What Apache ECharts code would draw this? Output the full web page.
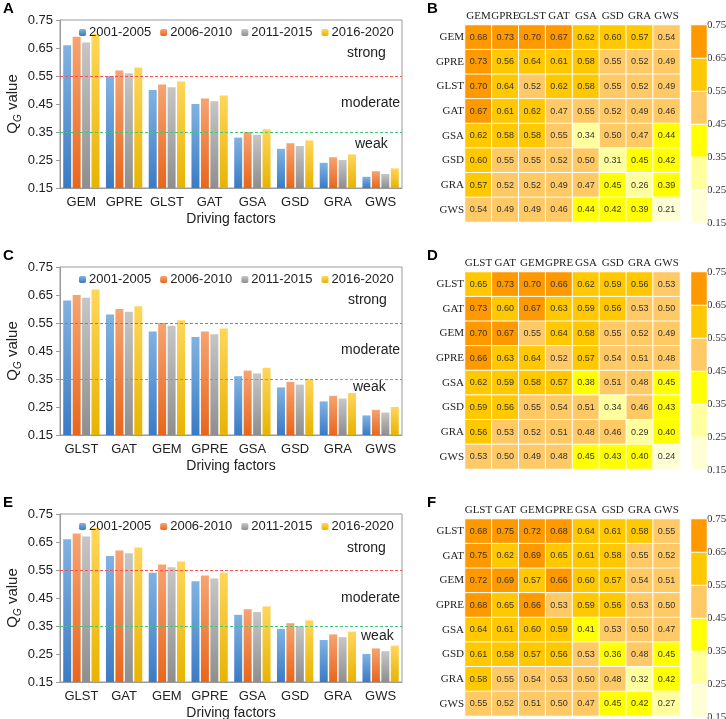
<!DOCTYPE html>
<html>
<head>
<meta charset="utf-8">
<script src="https://cdn.jsdelivr.net/npm/echarts@6/dist/echarts.min.js"></script>
<style>
  html, body { margin: 0; padding: 0; background: #fff; }
  #main { width: 726px; height: 719px; }
</style>
</head>
<body>
<div id="main"></div>
<script>
// periods shown in the bar charts
const periods = ['2001-2005', '2006-2010', '2011-2015', '2016-2020'];
const thresholds = [0.55, 0.35];

// panel A
const factorsA = ['GEM', 'GPRE', 'GLST', 'GAT', 'GSA', 'GSD', 'GRA', 'GWS'];
const qA_2001 = [0.66, 0.55, 0.50, 0.45, 0.33, 0.29, 0.24, 0.19];
const qA_2006 = [0.69, 0.57, 0.52, 0.47, 0.35, 0.31, 0.26, 0.21];
const qA_2011 = [0.67, 0.56, 0.51, 0.46, 0.34, 0.30, 0.25, 0.20];
const qA_2016 = [0.70, 0.58, 0.53, 0.48, 0.36, 0.32, 0.27, 0.22];

// panel C
const factorsC = ['GLST', 'GAT', 'GEM', 'GPRE', 'GSA', 'GSD', 'GRA', 'GWS'];
const qC_2001 = [0.63, 0.58, 0.52, 0.50, 0.36, 0.32, 0.27, 0.22];
const qC_2006 = [0.65, 0.60, 0.55, 0.52, 0.38, 0.34, 0.29, 0.24];
const qC_2011 = [0.64, 0.59, 0.54, 0.51, 0.37, 0.33, 0.28, 0.23];
const qC_2016 = [0.67, 0.61, 0.56, 0.53, 0.39, 0.35, 0.30, 0.25];

// panel E
const factorsE = ['GLST', 'GAT', 'GEM', 'GPRE', 'GSA', 'GSD', 'GRA', 'GWS'];
const qE_2001 = [0.66, 0.60, 0.54, 0.51, 0.39, 0.34, 0.30, 0.25];
const qE_2006 = [0.68, 0.62, 0.57, 0.53, 0.41, 0.36, 0.32, 0.27];
const qE_2011 = [0.67, 0.61, 0.56, 0.52, 0.40, 0.35, 0.31, 0.26];
const qE_2016 = [0.70, 0.63, 0.58, 0.54, 0.42, 0.37, 0.33, 0.28];

// interaction matrices (B, D, F)
const factorsB = ['GEM', 'GPRE', 'GLST', 'GAT', 'GSA', 'GSD', 'GRA', 'GWS'];
const matrixB = [
  [0.68, 0.73, 0.70, 0.67, 0.62, 0.60, 0.57, 0.54],
  [0.73, 0.56, 0.64, 0.61, 0.58, 0.55, 0.52, 0.49],
  [0.70, 0.64, 0.52, 0.62, 0.58, 0.55, 0.52, 0.49],
  [0.67, 0.61, 0.62, 0.47, 0.55, 0.52, 0.49, 0.46],
  [0.62, 0.58, 0.58, 0.55, 0.34, 0.50, 0.47, 0.44],
  [0.60, 0.55, 0.55, 0.52, 0.50, 0.31, 0.45, 0.42],
  [0.57, 0.52, 0.52, 0.49, 0.47, 0.45, 0.26, 0.39],
  [0.54, 0.49, 0.49, 0.46, 0.44, 0.42, 0.39, 0.21]
];
const factorsD = ['GLST', 'GAT', 'GEM', 'GPRE', 'GSA', 'GSD', 'GRA', 'GWS'];
const matrixD = [
  [0.65, 0.73, 0.70, 0.66, 0.62, 0.59, 0.56, 0.53],
  [0.73, 0.60, 0.67, 0.63, 0.59, 0.56, 0.53, 0.50],
  [0.70, 0.67, 0.55, 0.64, 0.58, 0.55, 0.52, 0.49],
  [0.66, 0.63, 0.64, 0.52, 0.57, 0.54, 0.51, 0.48],
  [0.62, 0.59, 0.58, 0.57, 0.38, 0.51, 0.48, 0.45],
  [0.59, 0.56, 0.55, 0.54, 0.51, 0.34, 0.46, 0.43],
  [0.56, 0.53, 0.52, 0.51, 0.48, 0.46, 0.29, 0.40],
  [0.53, 0.50, 0.49, 0.48, 0.45, 0.43, 0.40, 0.24]
];
const factorsF = ['GLST', 'GAT', 'GEM', 'GPRE', 'GSA', 'GSD', 'GRA', 'GWS'];
const matrixF = [
  [0.68, 0.75, 0.72, 0.68, 0.64, 0.61, 0.58, 0.55],
  [0.75, 0.62, 0.69, 0.65, 0.61, 0.58, 0.55, 0.52],
  [0.72, 0.69, 0.57, 0.66, 0.60, 0.57, 0.54, 0.51],
  [0.68, 0.65, 0.66, 0.53, 0.59, 0.56, 0.53, 0.50],
  [0.64, 0.61, 0.60, 0.59, 0.41, 0.53, 0.50, 0.47],
  [0.61, 0.58, 0.57, 0.56, 0.53, 0.36, 0.48, 0.45],
  [0.58, 0.55, 0.54, 0.53, 0.50, 0.48, 0.32, 0.42],
  [0.55, 0.52, 0.51, 0.50, 0.47, 0.45, 0.42, 0.27]
];

// colour scale of the matrices
const breaks = [0.15, 0.25, 0.35, 0.45, 0.55, 0.65, 0.75];
const pieceColors = ['#FFFFD6', '#FFFF9E', '#FFFF00', '#FFC966', '#FFC800', '#FF9900'];

const barPanels = [
  { letter: 'A', factors: factorsA, values: [qA_2001, qA_2006, qA_2011, qA_2016],
    notes: [[347, 53], [341, 103], [355, 144]] },
  { letter: 'C', factors: factorsC, values: [qC_2001, qC_2006, qC_2011, qC_2016],
    notes: [[348, 300], [341, 350], [353, 387]] },
  { letter: 'E', factors: factorsE, values: [qE_2001, qE_2006, qE_2011, qE_2016],
    notes: [[347, 548], [341, 598], [361, 636]] }
];
const heatPanels = [
  { letter: 'B', factors: factorsB, matrix: matrixB },
  { letter: 'D', factors: factorsD, matrix: matrixD },
  { letter: 'F', factors: factorsF, matrix: matrixF }
];
const noteTexts = ['strong', 'moderate', 'weak'];

const ROW = 247;
const barColors = [
  ['#80B3E3', '#3A7BC6'],
  ['#F6A472', '#E8661C'],
  ['#C6C6C6', '#8E8E8E'],
  ['#FFD65A', '#E8B300']
];
const lineColors = ['#FF5050', '#3CC878'];
function grad(c) {
  return new echarts.graphic.LinearGradient(0, 0, 0, 1, [
    { offset: 0, color: c[0] },
    { offset: 1, color: c[1] }
  ]);
}
const fmt = v => v.toFixed(2);

const chart = echarts.init(document.getElementById('main'));
const grid = [], xAxis = [], yAxis = [], series = [], legend = [], graphic = [];
const heatIdx = [];

barPanels.forEach((p, i) => {
  const top = 20 + ROW * i;
  const gi = grid.length, xi = xAxis.length, yi = yAxis.length;
  grid.push({ left: 60, top: top, width: 342, height: 168, show: true, borderColor: '#9a9a9a', borderWidth: 1, outerBoundsMode: 'none' });
  xAxis.push({
    gridIndex: gi, type: 'category', data: p.factors,
    axisLine: { lineStyle: { color: '#9a9a9a' } },
    axisTick: { length: 5, lineStyle: { color: '#9a9a9a' } },
    axisLabel: { interval: 0, fontSize: 13, color: '#222', margin: 8 },
    name: 'Driving factors', nameLocation: 'middle', nameGap: 24,
    nameTextStyle: { fontSize: 14, color: '#222' }
  });
  yAxis.push({
    gridIndex: gi, type: 'value', min: 0.15, max: 0.75, interval: 0.1,
    splitLine: { show: false },
    axisLine: { show: true, lineStyle: { color: '#9a9a9a' } },
    axisTick: { show: true, length: 4, lineStyle: { color: '#9a9a9a' } },
    axisLabel: { fontSize: 13, color: '#222', margin: 7, formatter: fmt },
    name: '{q|Q}{g|G}{q| value}', nameLocation: 'middle', nameGap: 37,
    nameTextStyle: {
      rich: {
        q: { fontSize: 15, color: '#222', lineHeight: 20, verticalAlign: 'middle' },
        g: { fontSize: 10, color: '#222', fontStyle: 'italic', lineHeight: 20, verticalAlign: 'bottom' }
      }
    }
  });
  p.values.forEach((vals, k) => {
    const s = {
      type: 'bar', name: periods[k], xAxisIndex: xi, yAxisIndex: yi, data: vals,
      barWidth: 8, barGap: '18%',
      itemStyle: { color: grad(barColors[k]) }
    };
    if (k === 0) {
      s.markLine = {
        silent: true, symbol: 'none', label: { show: false },
        data: thresholds.map((t, j) => ({ yAxis: t, lineStyle: { color: lineColors[j], type: [3, 2], width: 1 } }))
      };
    }
    series.push(s);
  });
  legend.push({
    data: periods, top: top + 1, left: 74, itemWidth: 7, itemHeight: 7, itemGap: 9,
    textStyle: { fontSize: 13, color: '#222', padding: [0, 0, 0, -2] }
  });
  p.notes.forEach((pos, j) => {
    graphic.push({ type: 'text', x: pos[0], y: pos[1],
      style: { text: noteTexts[j], fontSize: 14, fill: '#222', verticalAlign: 'middle', fontFamily: 'Liberation Sans' } });
  });
  graphic.push({ type: 'text', x: 3, y: 9 + ROW * i,
    style: { text: p.letter, fontSize: 15, fontWeight: 'bold', fill: '#000', verticalAlign: 'middle', fontFamily: 'Liberation Sans' } });
});

heatPanels.forEach((h, i) => {
  const top = 25 + ROW * i;
  let gi = grid.length, xi = xAxis.length, yi = yAxis.length;
  grid.push({ left: 465, top: top, width: 215, height: 197, outerBoundsMode: 'none' });
  xAxis.push({
    gridIndex: gi, type: 'category', position: 'top', data: h.factors,
    axisLine: { show: false }, axisTick: { show: false }, splitLine: { show: false },
    axisLabel: { interval: 0, fontFamily: 'Liberation Serif', fontSize: 11, color: '#222', margin: 3 }
  });
  yAxis.push({
    gridIndex: gi, type: 'category', inverse: true, data: h.factors,
    axisLine: { show: false }, axisTick: { show: false }, splitLine: { show: false },
    axisLabel: { interval: 0, fontFamily: 'Liberation Serif', fontSize: 11, color: '#222', margin: 1 }
  });
  const data = [];
  h.matrix.forEach((row, r) => row.forEach((v, c) => data.push([c, r, v])));
  heatIdx.push(series.length);
  series.push({
    type: 'heatmap', xAxisIndex: xi, yAxisIndex: yi, data: data,
    itemStyle: { borderColor: '#fff', borderWidth: 1 },
    label: { show: true, fontSize: 9, color: '#333', formatter: p => fmt(p.value[2]) }
  });

  // colour bar: one column of cells, one per class, plus a value axis for the break labels
  gi = grid.length; xi = xAxis.length; yi = yAxis.length;
  grid.push({ left: 691, top: top, width: 16, height: 198, outerBoundsMode: 'none' });
  xAxis.push({ gridIndex: gi, type: 'category', data: [''], show: false });
  yAxis.push({ gridIndex: gi, type: 'category', data: pieceColors.map((c, k) => k), show: false });
  yAxis.push({
    gridIndex: gi, type: 'value', position: 'right', min: breaks[0], max: breaks[breaks.length - 1], interval: 0.1,
    axisLine: { show: false }, axisTick: { show: false }, splitLine: { show: false },
    axisLabel: { margin: 0, fontFamily: 'Liberation Serif', fontSize: 11, color: '#333', formatter: fmt }
  });
  series.push({
    type: 'heatmap', xAxisIndex: xi, yAxisIndex: yi, silent: true,
    data: pieceColors.map((c, k) => ({ value: [0, k, breaks[k + 1]], itemStyle: { color: c } })),
    itemStyle: { borderColor: '#fff', borderWidth: 1 }
  });

  graphic.push({ type: 'text', x: 427, y: 9 + ROW * i,
    style: { text: h.letter, fontSize: 15, fontWeight: 'bold', fill: '#000', verticalAlign: 'middle', fontFamily: 'Liberation Sans' } });
});

chart.setOption({
  animation: false,
  textStyle: { fontFamily: 'Liberation Sans, Arial, sans-serif' },
  grid: grid,
  xAxis: xAxis,
  yAxis: yAxis,
  legend: legend,
  visualMap: {
    type: 'piecewise', show: false, seriesIndex: heatIdx, dimension: 2,
    pieces: pieceColors.map((c, k) => ({ gt: breaks[k], lte: breaks[k + 1], color: c }))
  },
  graphic: graphic,
  series: series
});
</script>
</body>
</html>
